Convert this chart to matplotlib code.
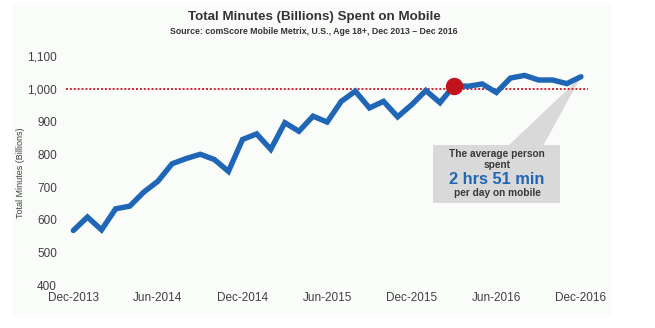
import matplotlib
matplotlib.use("Agg")
import matplotlib.pyplot as plt
from matplotlib.patches import Rectangle, Polygon

plt.rcParams['font.family'] = ['Liberation Sans', 'DejaVu Sans']

# monthly totals, Dec 2013 .. Dec 2016 (billions of minutes)
minutes = [568, 609, 570, 634, 642, 685, 718, 771, 787, 800, 784, 748,
           845, 862, 815, 896, 870, 916, 898, 961, 992, 941, 961, 914,
           951, 994, 957, 1009, 1007, 1014, 988, 1032, 1040, 1026, 1026, 1015,
           1036]
tick_months = [0, 6, 12, 18, 24, 30, 36]
tick_labels = ['Dec-2013', 'Jun-2014', 'Dec-2014', 'Jun-2015',
               'Dec-2015', 'Jun-2016', 'Dec-2016']
y_ticks = [400, 500, 600, 700, 800, 900, 1000, 1100]
threshold = 1000
crossing = 27  # first month above 1,000

W, H = 655, 328
TEXT = '#404040'
BLUE = '#1f66b6'
RED = '#c0131c'

fig = plt.figure(figsize=(W / 100, H / 100), dpi=100)
fig.patch.set_facecolor('white')


def px(x, y):
    # pixel position (from top-left) -> figure fraction
    return x / W, 1 - y / H


# pale backdrop panel, kept behind the axes
fig.patches.append(Rectangle(px(12, 316), 600 / W, 311 / H, transform=fig.transFigure,
                             facecolor='#fafcfa', edgecolor='none', zorder=-1))

left, bottom = px(66, 285.7)
right, top = px(588, 55.7)
ax = fig.add_axes([left, bottom, right - left, top - bottom])
ax.set_facecolor('none')
ax.set_xlim(-0.52, 36.5)
ax.set_ylim(400, 1100)
for s in ax.spines.values():
    s.set_visible(False)

months = list(range(len(minutes)))
ax.axhline(threshold, color='#d4202c', linestyle=(0, (1, 1)), linewidth=1.4, zorder=2)
ax.plot(months, minutes, color=BLUE, linewidth=3.9, solid_joinstyle='miter',
        solid_capstyle='round', zorder=3)
ax.plot(months[crossing], minutes[crossing], 'o', color=RED, markersize=11.5, zorder=4)

ax.set_xticks(tick_months)
ax.set_xticklabels(tick_labels)
ax.set_yticks(y_ticks)
ax.set_yticklabels([f'{v:,}' for v in y_ticks])
ax.tick_params(length=0, labelsize=8.5, labelcolor=TEXT)
ax.tick_params(axis='y', pad=6.5)
ax.tick_params(axis='x', pad=4.5)

fig.text(*px(21, 173), 'Total Minutes (Billions)', rotation=90, ha='center', va='center',
         fontsize=6.5, color=TEXT)

fig.text(*px(314, 17), 'Total Minutes (Billions) Spent on Mobile', ha='center', va='center',
         fontsize=9.6, fontweight='bold', color='#333333')
fig.text(*px(314, 31), 'Source: comScore Mobile Metrix, U.S., Age 18+, Dec 2013 \u2013 Dec 2016',
         ha='center', va='center', fontsize=6.3, fontweight='bold', color='#333333')

# callout box with a wedge pointing at the last month
tip = ax.transData.transform((months[-1], minutes[-1]))
tip = (tip[0] / W, tip[1] / H)
ax.add_patch(Polygon([px(508, 146), px(543, 146), tip], closed=True, transform=fig.transFigure,
                     facecolor='#d9d9d9', edgecolor='none', clip_on=False, zorder=1))
ax.add_patch(Rectangle(px(433, 203), 127 / W, 58 / H, transform=fig.transFigure,
                       facecolor='#d9d9d9', edgecolor='none', clip_on=False, zorder=1))
fig.text(*px(497, 154), 'The average person', ha='center', va='center',
         fontsize=7.3, fontweight='bold', color='#3a3a3a', zorder=5)
fig.text(*px(497, 165.5), 'spent', ha='center', va='center',
         fontsize=7.3, fontweight='bold', color='#3a3a3a', zorder=5)
fig.text(*px(497, 180), '2 hrs 51 min', ha='center', va='center',
         fontsize=11.8, fontweight='bold', color=BLUE, zorder=5)
fig.text(*px(497, 193.5), 'per day on mobile', ha='center', va='center',
         fontsize=7.3, fontweight='bold', color='#3a3a3a', zorder=5)

fig.savefig('out.png', dpi=100)
